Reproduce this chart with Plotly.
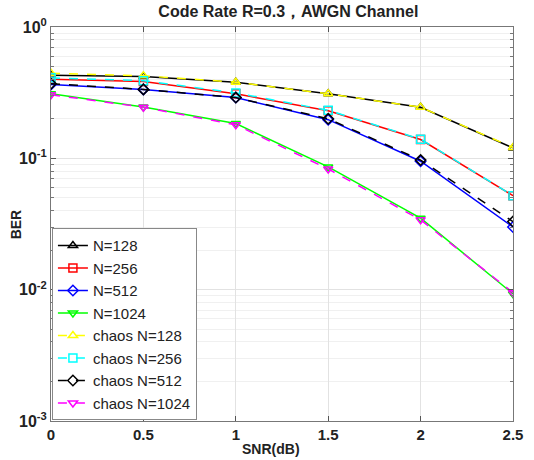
import plotly.graph_objects as go

snr = [0, 0.5, 1, 1.5, 2, 2.5]

ber_128 = [0.43, 0.42, 0.38, 0.31, 0.245, 0.12]
ber_256 = [0.40, 0.385, 0.31, 0.23, 0.139, 0.052]
ber_512 = [0.365, 0.335, 0.29, 0.197, 0.095, 0.030]
ber_1024 = [0.31, 0.246, 0.184, 0.086, 0.035, 0.0093]
chaos_128 = [0.445, 0.425, 0.38, 0.31, 0.245, 0.121]
chaos_256 = [0.41, 0.39, 0.315, 0.232, 0.14, 0.052]
chaos_512 = [0.37, 0.335, 0.29, 0.2, 0.097, 0.033]
chaos_1024 = [0.305, 0.245, 0.18, 0.083, 0.034, 0.0095]

names = ["N=128", "N=256", "N=512", "N=1024",
         "chaos N=128", "chaos N=256", "chaos N=512", "chaos N=1024"]
series = [ber_128, ber_256, ber_512, ber_1024,
          chaos_128, chaos_256, chaos_512, chaos_1024]
colors = ["#000000", "#ff0000", "#0000ff", "#00ff00",
          "#ffff00", "#00ffff", "#000000", "#ff00ff"]
symbols = ["triangle-up-open", "square-open", "diamond-open", "triangle-down-open"] * 2
dashes = ["solid"] * 4 + ["dash"] * 4

y_tickvals = [1, 0.1, 0.01, 0.001]
y_ticktext = ["<b>10<sup>0</sup></b>", "<b>10<sup>-1</sup></b>",
              "<b>10<sup>-2</sup></b>", "<b>10<sup>-3</sup></b>"]
x_tickvals = [0, 0.5, 1, 1.5, 2, 2.5]
x_ticktext = ["<b>0</b>", "<b>0.5</b>", "<b>1</b>", "<b>1.5</b>", "<b>2</b>", "<b>2.5</b>"]

minor_vals = [m * 10.0 ** e for e in (-3, -2, -1) for m in range(2, 10)]

fig = go.Figure()
for nm, ys, c, s, d in zip(names, series, colors, symbols, dashes):
    fig.add_trace(go.Scatter(
        x=snr, y=ys, name=nm, mode="lines+markers",
        line=dict(color=c, width=1.5, dash=d),
        marker=dict(symbol=s, size=8, color=c, line=dict(width=1.5, color=c)),
    ))

FONT = "Liberation Sans, Arial, sans-serif"

fig.update_layout(
    width=534, height=460,
    margin=dict(l=51, r=21, t=27, b=39),
    paper_bgcolor="white", plot_bgcolor="white",
    font=dict(family=FONT, color="black"),
    title=dict(text="<b>Code Rate R=0.3，AWGN Channel</b>", x=0.54, xanchor="center",
               y=0.975, yanchor="middle", font=dict(size=16, family=FONT, color="#222")),
    showlegend=True,
    legend=dict(x=0.002, y=0.002, xanchor="left", yanchor="bottom",
                bgcolor="white", bordercolor="#888", borderwidth=1,
                font=dict(size=15, family=FONT, color="#222"),
                tracegroupgap=0, itemwidth=30),
    xaxis=dict(range=[0, 2.5], tickvals=x_tickvals, ticktext=x_ticktext,
               showgrid=True, gridcolor="#e2e2e2", gridwidth=1,
               ticks="inside", ticklen=5, tickcolor="#555",
               showline=True, linecolor="#777", linewidth=1, mirror="ticks",
               zeroline=False,
               tickfont=dict(size=15, family=FONT, color="#222")),
    yaxis=dict(type="log", range=[-3, 0], tickvals=y_tickvals, ticktext=y_ticktext,
               showgrid=True, gridcolor="#e2e2e2", gridwidth=1,
               ticks="inside", ticklen=5, tickcolor="#555",
               showline=True, linecolor="#777", linewidth=1, mirror="ticks",
               zeroline=False,
               minor=dict(tickmode="array", tickvals=minor_vals,
                          showgrid=True, gridcolor="#f0f0f0", ticks="inside",
                          ticklen=3, tickcolor="#777"),
               tickfont=dict(size=16, family=FONT, color="#222")),
)

fig.add_annotation(text="<b>SNR(dB)</b>", xref="paper", yref="paper",
                   x=0.476, y=-0.046, xanchor="center", yanchor="top",
                   showarrow=False, font=dict(size=14, family=FONT, color="#222"))
fig.add_annotation(text="<b>BER</b>", xref="paper", yref="paper",
                   x=-0.075, y=0.5, xanchor="center", yanchor="middle", textangle=-90,
                   showarrow=False, font=dict(size=14, family=FONT, color="#222"))

fig.write_html("out.html")
